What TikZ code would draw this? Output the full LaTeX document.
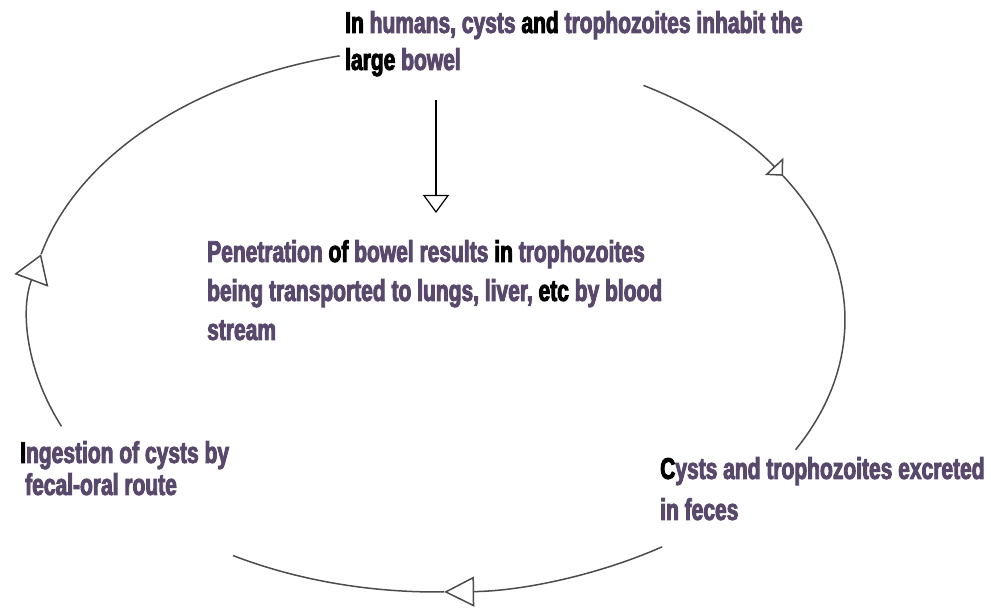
\documentclass[tikz,border=0pt]{standalone}
\usepackage{fontspec}
\newfontfamily\condfont{Liberation Sans Bold}[FakeStretch=0.70, FakeBold=3]
\usetikzlibrary{arrows.meta}
\definecolor{tp}{RGB}{88,72,108}
\begin{document}
\begin{tikzpicture}[x=1pt,y=1pt,
  lbl/.style={anchor=north west, inner sep=0pt, align=left, text=tp,
    font=\condfont\fontsize{30}{39}\selectfont},
  cyc/.style={draw=black!70, line width=1.5pt}]
\useasboundingbox[fill=white] (0,0) rectangle (991,610);
% labels
\node[lbl, font=\condfont\fontsize{30}{37}\selectfont] (top) at (345,599)
  {\textcolor{black}{In} humans, cysts \textcolor{black}{and} trophozoites inhabit the\\
   \textcolor{black}{large} bowel};
\node[lbl] (mid) at (207,370)
  {Penetration \textcolor{black}{of} bowel results \textcolor{black}{in} trophozoites\\
   being transported to lungs, liver, \textcolor{black}{etc} by blood\\
   stream};
\node[lbl, font=\condfont\fontsize{30}{32}\selectfont] (ing) at (20,169)
  {\textcolor{black}{I}ngestion of cysts by\\
   \hspace*{5pt}fecal-oral route};
\node[lbl, font=\condfont\fontsize{30}{41}\selectfont] (exc) at (660,153)
  {\textcolor{black}{C}ysts and trophozoites excreted\\
   in feces};
% cycle
\coordinate (O) at (437,290);
\coordinate (R0) at ([shift={(O)}]59.6:408 and 272);
\coordinate (R1) at ([shift={(O)}]32:408 and 272);
\coordinate (B0) at ([shift={(O)}]303.5:408 and 272);
\coordinate (B1) at ([shift={(O)}]271:408 and 272);
\coordinate (L0) at ([shift={(O)}]203:408 and 272);
\coordinate (L1) at ([shift={(O)}]166:408 and 272);
\draw[cyc, -{Triangle[open, length=13pt, width=25pt]}] (R0) arc[start angle=59.6, end angle=32, x radius=408, y radius=272];
\draw[cyc] (R1) arc[start angle=32, end angle=-28.5, x radius=408, y radius=272];
\draw[cyc, -{Triangle[open, length=30pt, width=30pt]}] (B0) arc[start angle=303.5, end angle=271, x radius=408, y radius=272];
\draw[cyc] (B1) arc[start angle=271, end angle=240, x radius=408, y radius=272];
\draw[cyc, -{Triangle[open, length=28pt, width=36pt]}] (L0) arc[start angle=203, end angle=166, x radius=408, y radius=272];
\draw[cyc] (L1) arc[start angle=166, end angle=103.8, x radius=408, y radius=272];
% vertical arrow
\coordinate (v0) at (436,510);
\coordinate (v1) at (436,397);
\draw[black, line width=1.2pt, -{Triangle[open, length=18pt, width=26pt]}] (v0) -- (v1);
\end{tikzpicture}
\end{document}
